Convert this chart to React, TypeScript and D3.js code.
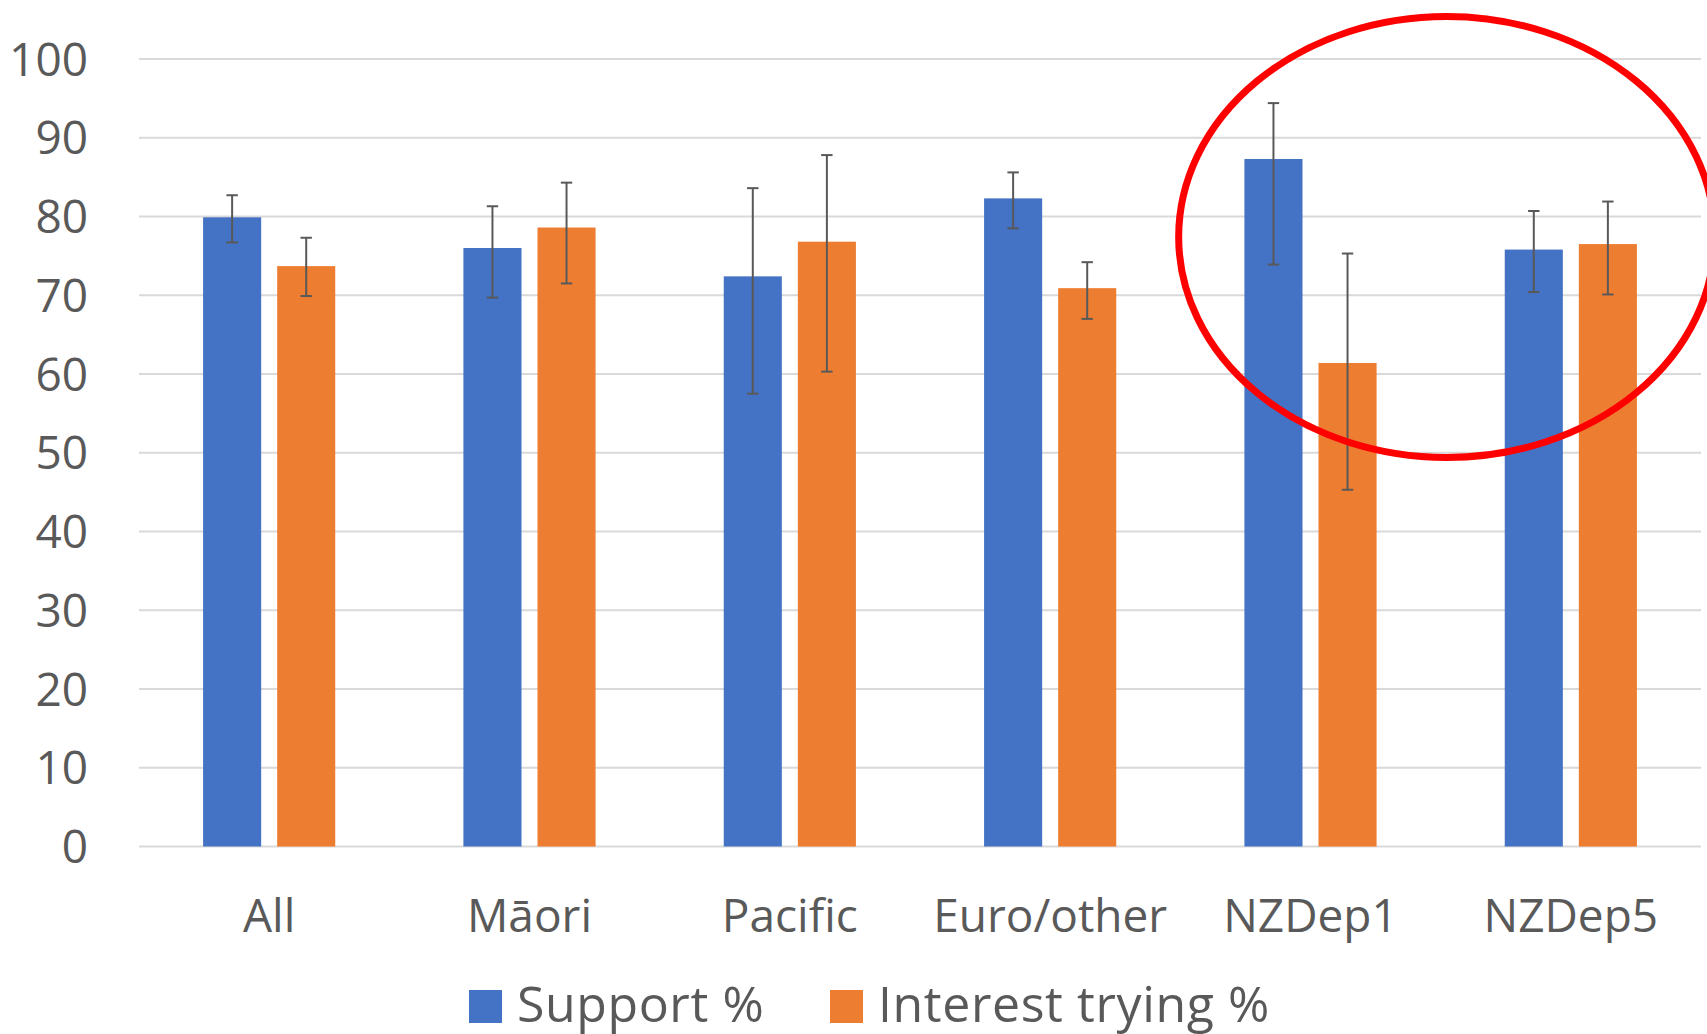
import * as d3 from 'd3';
import { useEffect } from 'react';

const categories = ['All', 'Māori', 'Pacific', 'Euro/other', 'NZDep1', 'NZDep5'];
const seriesNames = ['Support %', 'Interest trying %'];
const seriesColors = ['#4472C4', '#ED7D31'];

const supportValues = [79.9, 76.0, 72.4, 82.3, 87.3, 75.8];
const supportLow = [76.7, 69.7, 57.5, 78.5, 73.9, 70.4];
const supportHigh = [82.7, 81.3, 83.6, 85.6, 94.4, 80.7];

const interestValues = [73.7, 78.6, 76.8, 70.9, 61.4, 76.5];
const interestLow = [69.9, 71.5, 60.3, 67.0, 45.3, 70.1];
const interestHigh = [77.3, 84.3, 87.8, 74.2, 75.3, 81.9];

const yTicks = [0, 10, 20, 30, 40, 50, 60, 70, 80, 90, 100];

// red annotation ellipse round the NZDep groups (in data units)
const highlightCentreValue = 77.4;
const highlightHalfHeight = 28;

const W = 1707;
const H = 1034;
const FONT = "'Open Sans', sans-serif";
const TEXT = '#595959';

export default function App() {
  useEffect(() => {
    document.body.style.margin = '0';
    document.body.style.overflow = 'hidden';
  }, []);

  const x0 = d3.scaleBand().domain(categories).range([139, 1701]);
  const x1 = d3
    .scaleBand()
    .domain(seriesNames)
    .range([0, x0.step()])
    .paddingInner(0.216)
    .paddingOuter(0.865);
  const y = d3.scaleLinear().domain([0, 100]).range([846.5, 59]);

  const series = [
    { name: seriesNames[0], values: supportValues, low: supportLow, high: supportHigh },
    { name: seriesNames[1], values: interestValues, low: interestLow, high: interestHigh },
  ];

  const cap = 5.7;
  const ellCx = (x0('NZDep5') ?? 0) + 6;
  const ellCy = y(highlightCentreValue);
  const ellRy = y(0) - y(highlightHalfHeight);
  const ellRx = 268;

  return (
    <svg width={W} height={H} style={{ position: 'absolute', left: 0, top: 0, background: '#fff' }}>
      {/* gridlines */}
      {yTicks.map((t) => (
        <line key={t} x1={139} x2={1701} y1={y(t)} y2={y(t)} stroke="#d9d9d9" strokeWidth={2} />
      ))}
      {/* y labels */}
      {yTicks.map((t) => (
        <text
          key={'l' + t}
          x={88}
          y={y(t)}
          dy="0.36em"
          textAnchor="end"
          fontFamily={FONT}
          fontSize={46}
          fill={TEXT}
        >
          {t}
        </text>
      ))}
      {/* bars */}
      {series.map((s, si) =>
        categories.map((c, i) => (
          <rect
            key={s.name + c}
            x={(x0(c) ?? 0) + (x1(s.name) ?? 0)}
            y={y(s.values[i])}
            width={x1.bandwidth()}
            height={y(0) - y(s.values[i])}
            fill={seriesColors[si]}
          />
        )),
      )}
      {/* error bars */}
      {series.map((s) =>
        categories.map((c, i) => {
          const cx = (x0(c) ?? 0) + (x1(s.name) ?? 0) + x1.bandwidth() / 2;
          return (
            <g key={'e' + s.name + c} stroke="#595959" strokeWidth={2}>
              <line x1={cx} x2={cx} y1={y(s.high[i])} y2={y(s.low[i])} />
              <line x1={cx - cap} x2={cx + cap} y1={y(s.high[i])} y2={y(s.high[i])} />
              <line x1={cx - cap} x2={cx + cap} y1={y(s.low[i])} y2={y(s.low[i])} />
            </g>
          );
        }),
      )}
      {/* category labels */}
      {categories.map((c) => (
        <text
          key={'c' + c}
          x={(x0(c) ?? 0) + x0.bandwidth() / 2}
          y={932}
          textAnchor="middle"
          fontFamily={FONT}
          fontSize={46}
          fill={TEXT}
        >
          {c}
        </text>
      ))}
      {/* legend */}
      {[
        { name: seriesNames[0], color: seriesColors[0], x: 469 },
        { name: seriesNames[1], color: seriesColors[1], x: 830 },
      ].map((l) => (
        <g key={'lg' + l.name}>
          <rect x={l.x} y={990} width={33} height={33} fill={l.color} />
          <text
            x={l.x + 48}
            y={1022}
            fontFamily={FONT}
            fontSize={50}
            letterSpacing={0.6}
            fill={TEXT}
          >
            {l.name}
          </text>
        </g>
      ))}
      {/* highlight */}
      <ellipse cx={ellCx} cy={ellCy} rx={ellRx} ry={ellRy} fill="none" stroke="#FF0000" strokeWidth={7} />
    </svg>
  );
}
